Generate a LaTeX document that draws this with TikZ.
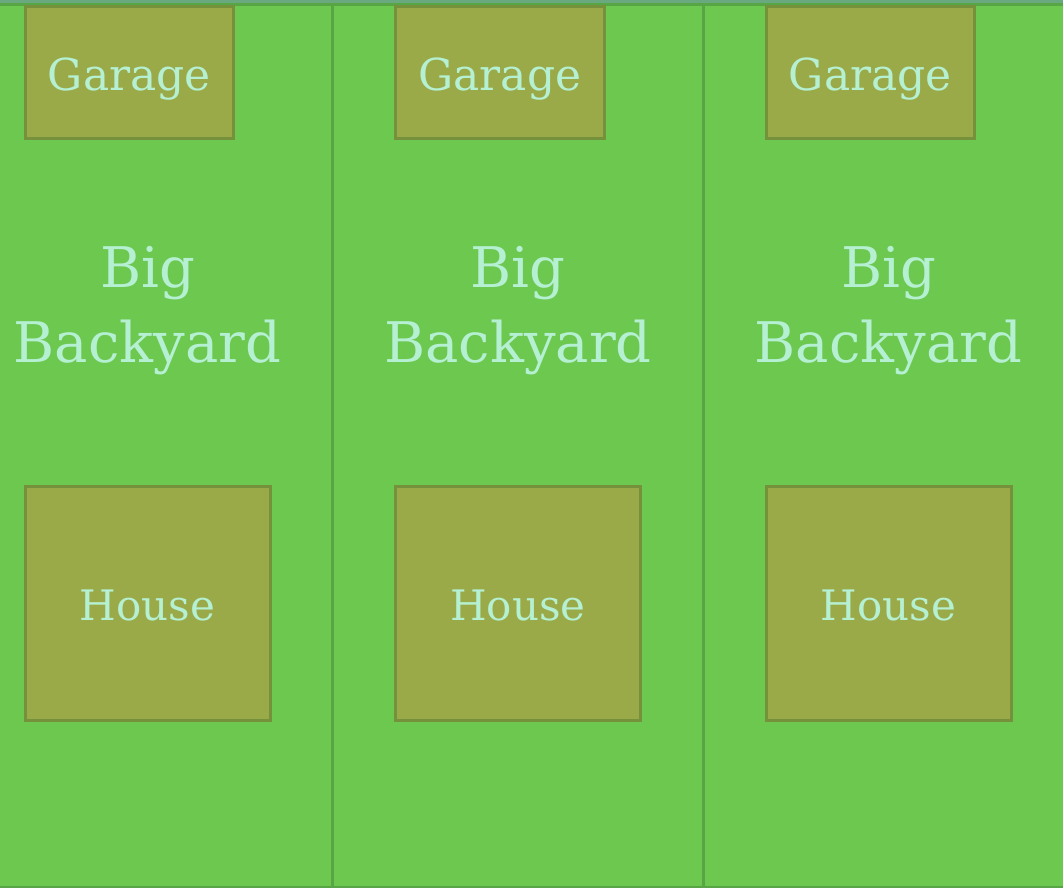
\documentclass[tikz,border=0pt]{standalone}
\usepackage{fontspec}
\setmainfont{DejaVu Serif}
\definecolor{topstrip}{HTML}{6AA880}
\definecolor{lawn}{HTML}{6DC850}
\definecolor{lawnedge}{HTML}{57A545}
\definecolor{bldg}{HTML}{9BAA48}
\definecolor{bldgedge}{HTML}{76913C}
\definecolor{txt}{HTML}{B5F0D2}
\tikzset{
  lot/.style={fill=lawn, draw=lawnedge, line width=3pt},
  building/.style={fill=bldg, draw=bldgedge, line width=3pt},
  lbl/.style={text=txt, anchor=base, inner sep=0pt},
}
\begin{document}
\begin{tikzpicture}[x=1pt, y=-1pt]
\useasboundingbox (0,0) rectangle (1063,888);
\clip (0,0) rectangle (1063,888);
\fill[topstrip] (0,0) rectangle (1063,4);
\foreach \i in {0,1,2}{
  \begin{scope}[xshift=\i*370.5pt]
    \draw[lot] (-38,4.5) rectangle (333,887.5);
    \draw[building] (25,6.5) rectangle (233.5,139);
    \draw[building] (25,486.5) rectangle (270,720);
    \node[lbl, font=\fontsize{44}{44}\selectfont] (garage\i) at (129.3,91) {Garage};
    \node[lbl, font=\fontsize{56}{56}\selectfont] (big\i) at (147.5,287) {Big};
    \node[lbl, font=\fontsize{56}{56}\selectfont] (backyard\i) at (147.5,362) {Backyard};
    \node[lbl, font=\fontsize{42}{42}\selectfont] (house\i) at (147.5,620) {House};
  \end{scope}
}
\end{tikzpicture}
\end{document}
